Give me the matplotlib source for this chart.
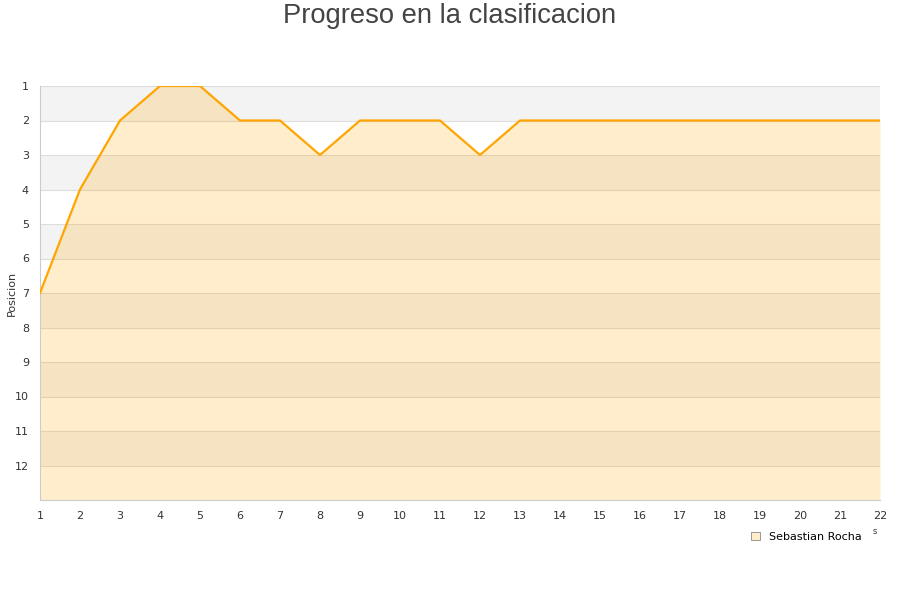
import matplotlib
matplotlib.use("Agg")
import matplotlib.pyplot as plt
from matplotlib.patches import Patch

jornadas = list(range(1, 23))
posicion = [7, 4, 2, 1, 1, 2, 2, 3, 2, 2, 2, 3, 2, 2, 2, 2, 2, 2, 2, 2, 2, 2]
jugador = "Sebastian Rocha"

fig = plt.figure(figsize=(9, 6), dpi=100)
ax = fig.add_axes([40 / 900, 100 / 600, 840 / 900, 414 / 600])

# alternating bands
for y in range(1, 13, 2):
    ax.axhspan(y, y + 1, color="#f3f3f3", zorder=0, lw=0)
for y in range(1, 13):
    ax.axhline(y, color="#dddddd", lw=0.8, zorder=1)

ax.fill_between(jornadas, posicion, 13, color="#ffa500", alpha=0.2, lw=0, zorder=2)
ax.plot(jornadas, posicion, color="#ffa500", lw=1.6, zorder=3)

ax.set_xlim(1, 22)
ax.set_ylim(13, 1)
ax.set_xticks(jornadas)
ax.set_yticks(range(1, 13))
ax.tick_params(length=0, labelsize=8, colors="#333333", pad=8)
for s in ax.spines.values():
    s.set_color("#cccccc")
    s.set_linewidth(0.8)
ax.spines["top"].set_visible(False)
ax.spines["right"].set_visible(False)

ax.set_ylabel("Posicion", fontsize=8, color="#333333")
ax.yaxis.set_label_coords(-0.027, 0.5)

fig.text(0.5, 1 - 16 / 600, "Progreso en la clasificacion", ha="center", va="center",
         fontsize=19.7, color="#444444", family="Liberation Sans")

handle = Patch(facecolor="#ffedcc", edgecolor="#888888", lw=0.6)
fig.legend([handle], [jugador], loc="center", bbox_to_anchor=(806 / 900, 1 - 537 / 600),
           frameon=False, fontsize=8, handlelength=0.8, handleheight=0.8, handletextpad=0.8)
fig.text(875 / 900, 1 - 531 / 600, "s", fontsize=6, color="#333333", ha="center", va="center")

fig.savefig("out.png", dpi=100)
